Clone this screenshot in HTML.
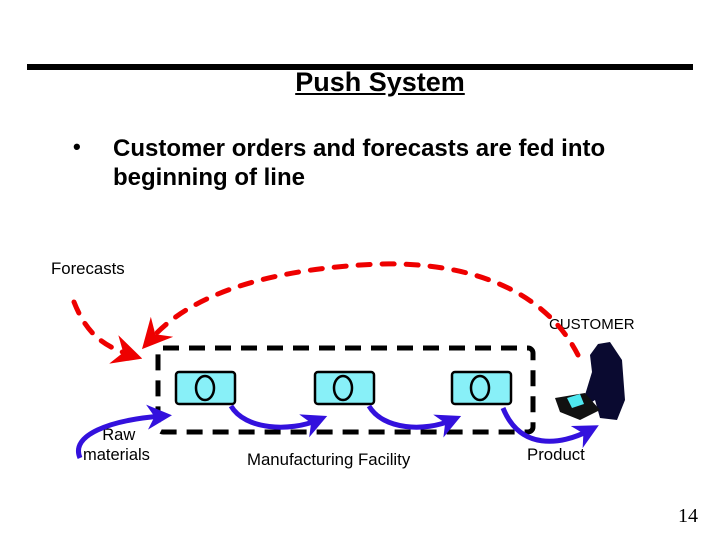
<!DOCTYPE html>
<html><head><style>
body{margin:0;width:720px;height:540px;background:#fff;position:relative;overflow:hidden;font-family:"Liberation Sans",sans-serif}
.t{position:absolute;white-space:nowrap}
</style></head><body>
<div style="position:absolute;left:27px;top:64px;width:666px;height:6px;background:#000"></div>
<div class="t" style="left:0;width:760px;text-align:center;top:67px;font-size:27px;font-weight:bold;text-decoration:underline">Push System</div>
<div class="t" style="left:73px;top:134px;font-size:22px;font-weight:bold">•</div>
<div class="t" style="left:113px;top:134px;font-size:24px;font-weight:bold;line-height:29px">Customer orders and forecasts are fed into<br>beginning of line</div>
<div class="t" style="left:51px;top:259px;font-size:16.8px">Forecasts</div>
<div class="t" style="left:549px;top:316px;font-size:15px">CUSTOMER</div>
<div class="t" style="left:83px;top:425px;font-size:16.5px;text-align:center;line-height:20px">&nbsp;Raw<br>materials</div>
<div class="t" style="left:247px;top:450px;font-size:16.8px">Manufacturing Facility</div>
<div class="t" style="left:527px;top:445px;font-size:16.8px">Product</div>
<div class="t" style="left:678px;top:505px;font-size:20px;font-family:'Liberation Serif',serif">14</div>
<svg width="720" height="540" style="position:absolute;left:0;top:0">
<defs>
<marker id="ar" markerWidth="6" markerHeight="6" refX="3" refY="3" orient="auto"><path d="M0,0L6,3L0,6L2,3Z" fill="#e00"/></marker>
<marker id="ab" markerWidth="5" markerHeight="5" refX="3" refY="2.5" orient="auto"><path d="M0,0L5,2.5L0,5L1.5,2.5Z" fill="#3311dd"/></marker>
</defs>
<rect x="158" y="348" width="375" height="84" rx="5" fill="none" stroke="#000" stroke-width="5" stroke-dasharray="16,10"/>
<g fill="#88f0f8" stroke="#000" stroke-width="2.5">
<rect x="176" y="372" width="59" height="32" rx="3"/><rect x="315" y="372" width="59" height="32" rx="3"/><rect x="452" y="372" width="59" height="32" rx="3"/>
</g>
<g fill="none" stroke="#000" stroke-width="2.5">
<ellipse cx="205" cy="388" rx="9" ry="12"/><ellipse cx="343" cy="388" rx="9" ry="12"/><ellipse cx="480" cy="388" rx="9" ry="12"/>
</g>
<g fill="none" stroke="#e00" stroke-width="5" stroke-dasharray="12,12" stroke-linecap="round">
<path d="M74,302 C85,330 100,345 128,354" marker-end="url(#ar)"/>
<path d="M578,355 C545,290 470,262 380,264 C280,268 195,290 152,338" marker-end="url(#ar)"/>
</g>
<g fill="none" stroke="#3311dd" stroke-width="5">
<path d="M80,458 C70,435 110,420 162,416" marker-end="url(#ab)"/>
<path d="M231,406 C245,430 290,432 318,420" marker-end="url(#ab)"/>
<path d="M369,406 C383,430 425,432 452,420" marker-end="url(#ab)"/>
<path d="M503,408 C520,450 560,446 590,430" marker-end="url(#ab)"/>
</g>
<path d="M598,344 L610,342 L622,360 L625,400 L617,420 L600,418 L595,400 L580,410 L585,395 L592,372 L590,355Z" fill="#0a0a30"/>
<path d="M555,398 L585,393 L600,410 L580,420 L560,412Z" fill="#111"/>
<path d="M567,398 L580,394 L584,404 L572,408Z" fill="#4fe8f0"/>
</svg>
</body></html>
